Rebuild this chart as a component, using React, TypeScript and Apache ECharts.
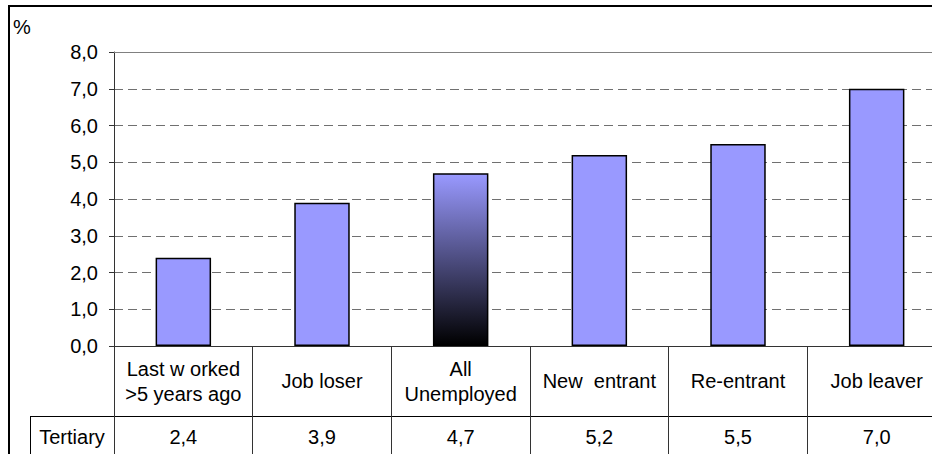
import React, { useEffect, useRef } from "react";
import * as echarts from "echarts";

const categories = ["Last w orked\n>5 years ago", "Job loser", "All\nUnemployed", "New  entrant", "Re-entrant", "Job leaver"];
const tertiary = [2.4, 3.9, 4.7, 5.2, 5.5, 7.0];
const highlightCategory = "All\nUnemployed";
const rowLabel = "Tertiary";
const yTicks = [0, 1, 2, 3, 4, 5, 6, 7, 8];

const FONT = "'Liberation Sans', Arial, sans-serif";
const FS = 20;
const fmt = (v: number) => v.toFixed(1).replace(".", ",");

export default function App() {
  const ref = useRef<HTMLDivElement>(null);
  useEffect(() => {
    if (!ref.current) return;
    const chart = echarts.init(ref.current, undefined, { renderer: "svg" });
    const barData = tertiary.map((v, i) => ({
      value: v,
      itemStyle:
        categories[i] === highlightCategory
          ? {
              color: new echarts.graphic.LinearGradient(0, 0, 0, 1, [
                { offset: 0, color: "#9999FF" },
                { offset: 1, color: "#000000" },
              ]),
            }
          : { color: "#9999FF" },
    }));
    const yMax = yTicks[yTicks.length - 1];
    chart.setOption({
      animation: false,
      backgroundColor: "#ffffff",
      textStyle: { fontFamily: FONT },
      grid: {
        left: 114,
        top: 52,
        right: 14,
        bottom: 108,
        show: false,
      },
      xAxis: [
        {
          type: "category",
          data: categories,
          position: "bottom",
          axisLine: { show: true, lineStyle: { color: "#333333", width: 1 } },
          axisTick: { show: true, length: 120, lineStyle: { color: "#333333", width: 1 } },
          axisLabel: {
            interval: 0,
            margin: 35,
            verticalAlign: "middle",
            color: "#000",
            fontFamily: FONT,
            fontSize: FS,
            lineHeight: 25,
          },
        },
        {
          type: "category",
          data: categories,
          position: "bottom",
          axisLine: { show: false },
          axisTick: { show: false },
          axisLabel: {
            interval: 0,
            margin: 91,
            verticalAlign: "middle",
            color: "#000",
            fontFamily: FONT,
            fontSize: FS,
            formatter: (_: string, i: number) => fmt(tertiary[i]),
          },
        },
      ],
      yAxis: {
        type: "value",
        min: yTicks[0],
        max: yMax,
        interval: 1,
        axisLine: { show: true, lineStyle: { color: "#333333", width: 1 } },
        axisTick: { show: true, length: 5, lineStyle: { color: "#333333" } },
        axisLabel: {
          margin: 16,
          color: "#000",
          fontFamily: FONT,
          fontSize: FS,
          formatter: (v: number) => fmt(v),
        },
        splitLine: {
          show: true,
          lineStyle: { color: "#707070", type: [9, 5], width: 1 },
        },
      },
      series: [
        {
          type: "bar",
          xAxisIndex: 0,
          data: barData,
          barWidth: "40%",
          itemStyle: { borderColor: "#000", borderWidth: 1.5 },
          markLine: {
            silent: true,
            symbol: "none",
            label: { show: false },
            lineStyle: { color: "#808080", type: "solid", width: 1 },
            data: [{ yAxis: yMax }],
          },
        },
      ],
      graphic: [
        {
          type: "rect",
          shape: { x: 9, y: 6, width: 1100, height: 1000 },
          style: { fill: "none", stroke: "#000", lineWidth: 2 },
          silent: true,
          z: 100,
        },
        {
          type: "text",
          x: 13,
          y: 17,
          style: { text: "%", fill: "#000", font: `${FS}px ${FONT}` },
        },
        {
          type: "line",
          shape: { x1: 30, y1: 416.5, x2: 1000, y2: 416.5 },
          style: { stroke: "#000", lineWidth: 1 },
        },
        {
          type: "line",
          shape: { x1: 30.5, y1: 416, x2: 30.5, y2: 470 },
          style: { stroke: "#000", lineWidth: 1 },
        },
        {
          type: "text",
          x: 72,
          y: 437,
          style: {
            text: rowLabel,
            fill: "#000",
            font: `${FS}px ${FONT}`,
            align: "center",
            verticalAlign: "middle",
          },
        },
      ],
    });
    return () => chart.dispose();
  }, []);
  return (
    <div style={{ position: "fixed", left: 0, top: 0, width: 932, height: 454, overflow: "hidden" }}>
      <div ref={ref} style={{ width: 960, height: 454 }} />
    </div>
  );
}
